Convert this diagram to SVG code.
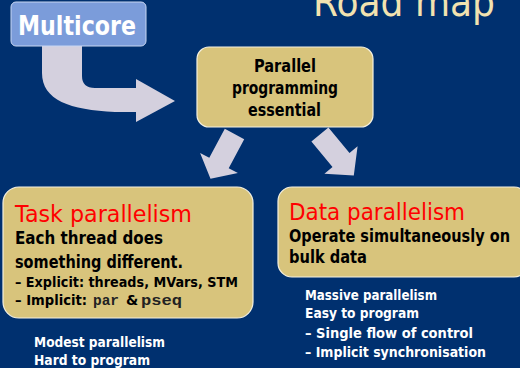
<svg xmlns="http://www.w3.org/2000/svg" width="520" height="368" viewBox="0 0 520 368">
  <style>
    .bg { fill: #00306f; }
    .tan { fill: #d8c47c; stroke: #f4f0e0; stroke-width: 1.2; }
    .flow { fill: #d4d0de; }
    .t { font-family: "DejaVu Sans", "Liberation Sans", sans-serif; font-weight: bold; }
    .blk { fill: #000000; }
    .wht { fill: #ffffff; }
    .red { fill: #ff0000; font-weight: normal; }
    .mono { font-family: "Liberation Mono", "DejaVu Sans Mono", monospace; font-weight: bold; fill: #222222; }
  </style>

  <rect class="bg" x="0" y="0" width="520" height="368"/>

  <!-- Heading, cut by the top edge -->
  <text id="title" x="313" y="16" font-family="DejaVu Sans, Liberation Sans, sans-serif" font-size="40" fill="#f2e2b0" textLength="182" lengthAdjust="spacingAndGlyphs">Road map</text>

  <!-- Connectors (drawn under the boxes) -->
  <g id="connectors" class="flow">
    <path d="M42,46 L42,73 C42,100 70,110 115,112 L136,112 L136,122 L175,101 L136,79 L136,88 L95,88 Q82,88 82,76 L82,46 Z"/>
    <polygon points="224.8,128.8 244.2,139.2 228.7,168.2 237.9,173.1 210.5,178.8 200.1,152.9 209.3,157.8"/>
    <polygon points="311.4,141.6 328.4,127.6 349.5,153 357.6,146.2 353.8,175.4 324.4,173.8 332.5,167"/>
  </g>

  <!-- Multicore -->
  <g id="multicore">
    <rect x="11" y="2" width="135" height="44" rx="5" fill="#7b9cda" stroke="#c8d6f2" stroke-width="1"/>
    <text class="t wht" x="18" y="35" font-size="26" textLength="118" lengthAdjust="spacingAndGlyphs">Multicore</text>
  </g>

  <!-- Parallel programming essential -->
  <g id="essential">
    <rect class="tan" x="197" y="47" width="176" height="80" rx="12"/>
    <text class="t blk" x="254" y="72" font-size="17" textLength="62" lengthAdjust="spacingAndGlyphs">Parallel</text>
    <text class="t blk" x="232" y="94" font-size="17" textLength="106" lengthAdjust="spacingAndGlyphs">programming</text>
    <text class="t blk" x="248" y="116" font-size="17" textLength="73" lengthAdjust="spacingAndGlyphs">essential</text>
  </g>

  <!-- Task parallelism -->
  <g id="task">
    <rect class="tan" x="3" y="187" width="250" height="131" rx="16"/>
    <text class="t red" x="15" y="222" font-size="23" textLength="177" lengthAdjust="spacingAndGlyphs">Task parallelism</text>
    <text class="t blk" x="15" y="244" font-size="18" textLength="148" lengthAdjust="spacingAndGlyphs">Each thread does</text>
    <text class="t blk" x="15" y="268" font-size="18" textLength="168" lengthAdjust="spacingAndGlyphs">something different.</text>
    <text class="t blk" x="15" y="287" font-size="14" textLength="223" lengthAdjust="spacingAndGlyphs">– Explicit: threads, MVars, STM</text>
    <text class="t blk" x="15" y="305" font-size="14" textLength="72" lengthAdjust="spacingAndGlyphs">– Implicit:</text>
    <text class="mono" x="93" y="305" font-size="15" textLength="26" lengthAdjust="spacingAndGlyphs">par</text>
    <text class="t blk" x="126" y="305" font-size="14">&amp;</text>
    <text class="mono" x="141" y="305" font-size="15" textLength="41" lengthAdjust="spacingAndGlyphs">pseq</text>
  </g>

  <!-- Task parallelism notes -->
  <g id="task-notes">
    <text class="t wht" x="34" y="347" font-size="14" textLength="131" lengthAdjust="spacingAndGlyphs">Modest parallelism</text>
    <text class="t wht" x="34" y="365" font-size="14" textLength="116" lengthAdjust="spacingAndGlyphs">Hard to program</text>
  </g>

  <!-- Data parallelism -->
  <g id="data">
    <rect class="tan" x="278" y="187" width="250" height="90" rx="14"/>
    <text class="t red" x="289" y="220" font-size="23" textLength="176" lengthAdjust="spacingAndGlyphs">Data parallelism</text>
    <text class="t blk" x="289" y="242" font-size="17" textLength="221" lengthAdjust="spacingAndGlyphs">Operate simultaneously on</text>
    <text class="t blk" x="289" y="263" font-size="17" textLength="78" lengthAdjust="spacingAndGlyphs">bulk data</text>
  </g>

  <!-- Data parallelism notes -->
  <g id="data-notes">
    <text class="t wht" x="305" y="300" font-size="14" textLength="132" lengthAdjust="spacingAndGlyphs">Massive parallelism</text>
    <text class="t wht" x="305" y="318" font-size="14" textLength="114" lengthAdjust="spacingAndGlyphs">Easy to program</text>
    <text class="t wht" x="305" y="338" font-size="14" textLength="168" lengthAdjust="spacingAndGlyphs">– Single flow of control</text>
    <text class="t wht" x="305" y="357" font-size="14" textLength="181" lengthAdjust="spacingAndGlyphs">– Implicit synchronisation</text>
  </g>
</svg>
